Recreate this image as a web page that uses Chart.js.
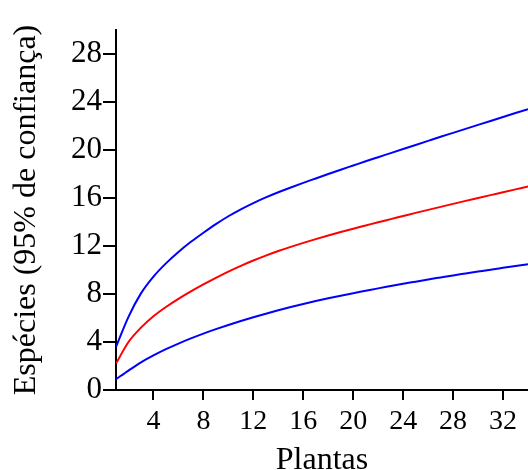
<!DOCTYPE html>
<html>
<head>
<meta charset="utf-8">
<script src="https://cdn.jsdelivr.net/npm/chart.js@4.4.0/dist/chart.umd.min.js"></script>
<style>
html,body{margin:0;padding:0;background:#fff;}
canvas{display:block;}
</style>
</head>
<body>
<canvas id="c" width="528" height="470"></canvas>
<script>
const plantas = [1,2,3,4,5,6,7,8,9,10,11,12,13,14,15,16,17,18,19,20,21,22,23,24,25,26,27,28,29,30,31,32,33,34];
const superior = [3.6,6.1,8.05,9.45,10.55,11.5,12.35,13.1,13.82,14.48,15.06,15.58,16.05,16.48,16.88,17.26,17.63,18.0,18.36,18.71,19.06,19.4,19.74,20.08,20.42,20.76,21.1,21.43,21.76,22.09,22.42,22.75,23.08,23.41];
const media = [2.2,4.0,5.2,6.15,6.92,7.6,8.22,8.8,9.35,9.87,10.35,10.79,11.2,11.58,11.93,12.26,12.57,12.87,13.16,13.44,13.71,13.98,14.24,14.5,14.76,15.01,15.26,15.51,15.76,16.0,16.24,16.48,16.72,16.96];
const inferior = [0.9,1.62,2.3,2.88,3.4,3.87,4.3,4.7,5.07,5.42,5.75,6.06,6.36,6.64,6.91,7.17,7.41,7.64,7.86,8.07,8.27,8.47,8.66,8.85,9.03,9.21,9.38,9.55,9.71,9.87,10.03,10.18,10.33,10.48];
const xTicks = [4,8,12,16,20,24,28,32];
const yTicks = [0,4,8,12,16,20,24,28];

const FONT = "'Liberation Serif','Times New Roman',serif";
const pts = arr => arr.map((v,i)=>({x:plantas[i], y:v}));
const ds = (arr,color) => ({data:pts(arr), borderColor:color, borderWidth:2, pointRadius:0, fill:false, cubicInterpolationMode:'monotone'});

new Chart(document.getElementById('c'), {
  type:'line',
  data:{datasets:[ds(superior,'#0000ff'), ds(media,'#ff0000'), ds(inferior,'#0000ff')]},
  options:{
    responsive:false, animation:false, devicePixelRatio:1,
    layout:{padding:{top:30,right:0,left:0,bottom:0}},
    plugins:{legend:{display:false}, tooltip:{enabled:false}},
    scales:{
      x:{type:'linear', min:1, max:34,
        afterFit:s=>{s.height=80;},
        afterBuildTicks:s=>{s.ticks=xTicks.map(v=>({value:v}));},
        grid:{drawOnChartArea:false, drawTicks:true, tickLength:10, color:'#000', lineWidth:2},
        border:{display:true, color:'#000', width:2},
        ticks:{color:'#000', font:{family:FONT, size:28}, padding:5, maxRotation:0, autoSkip:false},
        title:{display:true, text:'Plantas', color:'#000', font:{family:FONT, size:32}, padding:{top:0,bottom:-10}}
      },
      y:{type:'linear', min:0, max:30,
        afterFit:s=>{s.width=116;},
        afterBuildTicks:s=>{s.ticks=yTicks.map(v=>({value:v}));},
        grid:{drawOnChartArea:false, drawTicks:true, tickLength:13, color:'#000', lineWidth:2},
        border:{display:true, color:'#000', width:2},
        ticks:{color:'#000', font:{family:FONT, size:31}, padding:1, autoSkip:false},
        title:{display:true, text:'Espécies (95% de confiança)', color:'#000', font:{family:FONT, size:32}, padding:{top:7,bottom:0}}
      }
    }
  }
});
</script>
</body>
</html>
